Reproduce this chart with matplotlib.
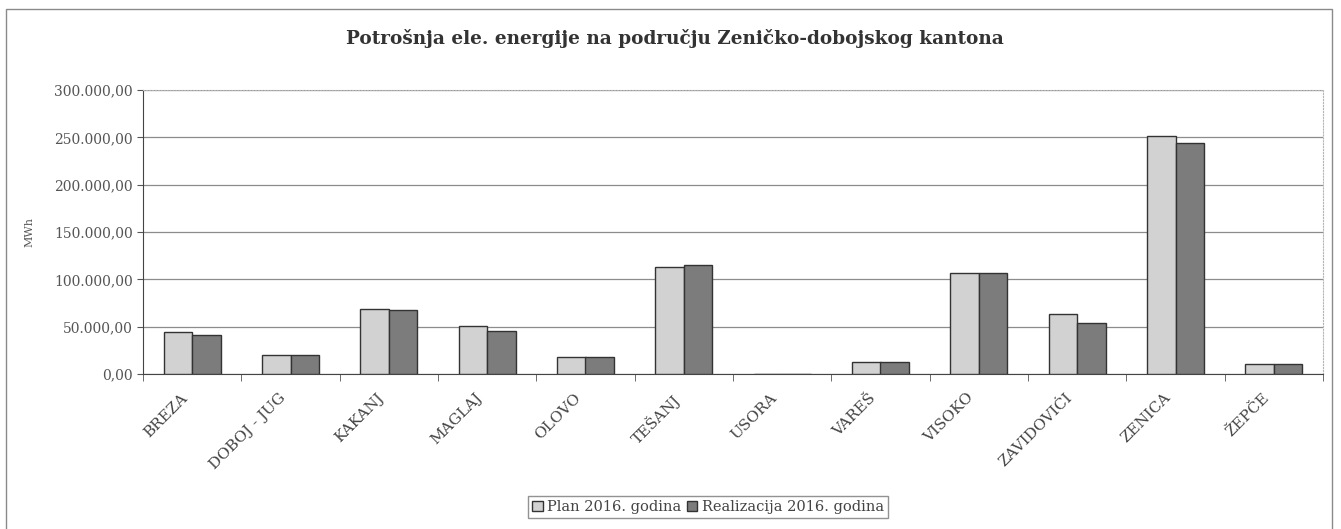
import matplotlib.pyplot as plt
from matplotlib.patches import Rectangle
from matplotlib.ticker import FuncFormatter, MultipleLocator
from matplotlib.transforms import ScaledTranslation
import numpy as np

plt.rcParams["font.family"] = ["DejaVu Serif", "DejaVu Sans"]

# data (MWh)
opcine = ["BREZA", "DOBOJ - JUG", "KAKANJ", "MAGLAJ", "OLOVO", "TEŠANJ",
          "USORA", "VAREŠ", "VISOKO", "ZAVIDOVIĆI", "ZENICA", "ŽEPČE"]
plan_2016 = [44000, 20000, 68500, 51000, 17500, 113500,
             0, 13000, 107000, 63000, 251000, 10500]
realizacija_2016 = [41000, 20000, 67800, 45500, 17500, 115200,
                    0, 13000, 107000, 54000, 244500, 10500]

fig = plt.figure(figsize=(13.41, 5.29), dpi=100)
ax = fig.add_axes([143 / 1341, 1 - 374 / 529, 1180 / 1341, 284 / 529])

# outer chart border
fig.patches.append(Rectangle((6 / 1341, -0.02), 1326 / 1341, 1.02 - 9 / 529,
                             transform=fig.transFigure, fill=False,
                             edgecolor="#8a8a8a", linewidth=1.0))

x = np.arange(len(opcine))
w = 0.29
ax.bar(x - w / 2, plan_2016, w, color="#d2d2d2", edgecolor="#333333",
       linewidth=1.0, label="Plan 2016. godina", zorder=3)
ax.bar(x + w / 2, realizacija_2016, w, color="#7c7c7c", edgecolor="#333333",
       linewidth=1.0, label="Realizacija 2016. godina", zorder=3)

ax.set_xlim(-0.5, len(opcine) - 0.5)
ax.set_ylim(0, 300000)
ax.yaxis.set_major_locator(MultipleLocator(50000))
ax.yaxis.set_major_formatter(FuncFormatter(
    lambda v, p: f"{v:,.2f}".replace(",", "X").replace(".", ",").replace("X", ".")))
ax.grid(axis="y", color="#8c8c8c", linewidth=0.9, zorder=0)

ax.set_xticks(x)
ax.set_xticklabels(opcine, rotation=45, ha="right", rotation_mode="anchor",
                   fontsize=11, color="#444444")
ax.tick_params(axis="x", length=0, pad=12)
shift = ScaledTranslation(-12 / 100, 0, fig.dpi_scale_trans)
for lbl in ax.get_xticklabels():
    lbl.set_transform(lbl.get_transform() + shift)
ax.set_xticks(np.arange(-0.5, len(opcine)), minor=True)
ax.tick_params(axis="x", which="minor", length=5, color="#555555")
ax.tick_params(axis="y", labelsize=10, labelcolor="#555555", length=4,
               color="#555555")

ax.set_ylabel("MWh", fontsize=8, color="#555555", labelpad=14)

for s in ["top", "right"]:
    ax.spines[s].set_color("#b5b5b5")
    ax.spines[s].set_linestyle(":")
ax.spines["left"].set_color("#444444")
ax.spines["bottom"].set_color("#444444")

fig.text(675 / 1341, 1 - 38 / 529,
         "Potrošnja ele. energije na području Zeničko-dobojskog kantona",
         ha="center", va="center", fontsize=13.3, fontweight="bold",
         color="#333333")

leg = fig.legend(loc="center", bbox_to_anchor=(708 / 1341, 1 - 507 / 529),
                 ncol=2, fontsize=10.5, frameon=True, fancybox=False,
                 handlelength=0.7, handleheight=0.7, handletextpad=0.3,
                 columnspacing=0.4, borderpad=0.3, borderaxespad=0)
leg.get_frame().set_edgecolor("#777777")
for t in leg.get_texts():
    t.set_color("#444444")

fig.savefig("out.png", dpi=100)
